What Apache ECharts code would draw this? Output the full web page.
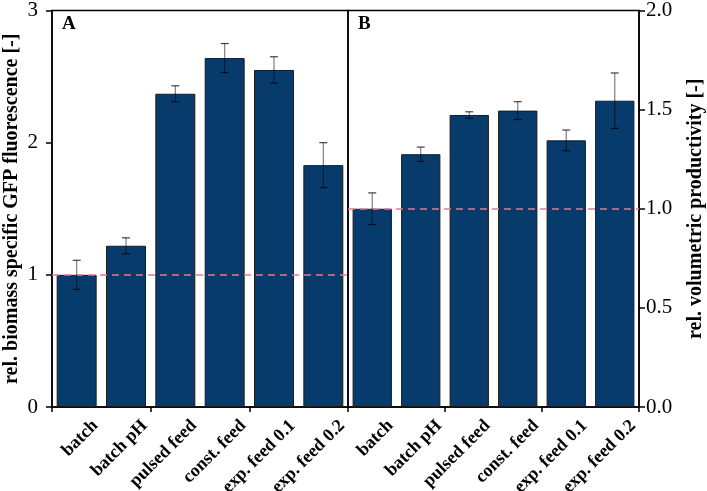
<!DOCTYPE html>
<html>
<head>
<meta charset="utf-8">
<script src="https://cdn.jsdelivr.net/npm/echarts@6/dist/echarts.min.js"></script>
<style>
    html, body { margin: 0; padding: 0; background: #fff; }
    #gfpChart { width: 707px; height: 491px; }
</style>
</head>
<body>
<div id="gfpChart"></div>
<script>
// categories shared by both panels
let categories = ['batch', 'batch pH', 'pulsed feed', 'const. feed', 'exp. feed 0.1', 'exp. feed 0.2'];

// panel A: rel. biomass specific GFP fluorescence
let gfpValues = [1.00, 1.22, 2.37, 2.64, 2.55, 1.83];
let gfpErrors = [0.11, 0.06, 0.06, 0.11, 0.10, 0.17];

// panel B: rel. volumetric productivity
let prodValues = [1.00, 1.275, 1.473, 1.495, 1.345, 1.545];
let prodErrors = [0.08, 0.036, 0.016, 0.045, 0.052, 0.14];

let gfpTicks = [0, 1, 2, 3];
let prodTicks = [0, 0.5, 1.0, 1.5, 2.0];

let font = '"Liberation Serif", "Times New Roman", serif';
let barColor = '#063b6b';
let refColor = '#e57a8d';

let gfpChart = echarts.init(document.getElementById('gfpChart'));

function errorBarItem(params, api) {
    let x = api.value(0);
    let v = api.value(1);
    let e = api.value(2);
    let top = api.coord([x, v + e]);
    let bottom = api.coord([x, v - e]);
    let cap = 4;
    let style = {stroke: 'rgba(0,0,0,0.5)', lineWidth: 1.2};
    let capStyle = {stroke: 'rgba(0,0,0,0.75)', lineWidth: 1.2};
    return {
        type: 'group',
        children: [
            {type: 'line', shape: {x1: top[0], y1: top[1], x2: bottom[0], y2: bottom[1]}, style: style},
            {type: 'line', shape: {x1: top[0] - cap, y1: top[1], x2: top[0] + cap, y2: top[1]}, style: capStyle},
            {type: 'line', shape: {x1: bottom[0] - cap, y1: bottom[1], x2: bottom[0] + cap, y2: bottom[1]}, style: capStyle}
        ]
    };
}

function errData(values, errors) {
    return values.map((v, i) => [i, v, errors[i]]);
}

function barAxis(gridIndex) {
    return {
        type: 'category',
        gridIndex: gridIndex,
        data: categories,
        position: 'bottom',
        axisLine: {lineStyle: {color: '#000', width: 1.5}},
        axisTick: {show: true, length: 5, lineStyle: {color: '#000', width: 1.5}},
        axisLabel: {show: false}
    };
}

function valueAxis(gridIndex, ticks, name, side, gap, margin, fmt) {
    return {
        type: 'value',
        gridIndex: gridIndex,
        position: side,
        min: ticks[0],
        max: ticks[ticks.length - 1],
        interval: ticks[1] - ticks[0],
        name: name,
        nameLocation: 'middle',
        nameRotate: 90,
        nameGap: gap,
        nameTextStyle: {fontFamily: font, fontWeight: 'bold', fontSize: 20, color: '#000'},
        splitLine: {show: false},
        axisLine: {show: true, lineStyle: {color: '#000', width: 1.5}},
        axisTick: {show: true, length: 6, lineStyle: {color: '#000', width: 1.5}},
        axisLabel: {margin: margin, fontFamily: font, fontSize: 21, color: '#000', formatter: fmt}
    };
}

let gfpOption = {
    animation: false,
    backgroundColor: '#fff',
    grid: [
        {left: 52, right: 359, top: 7, bottom: 84, show: true, borderColor: '#000', borderWidth: 1.5},
        {left: 348, right: 63, top: 7, bottom: 84, show: true, borderColor: '#000', borderWidth: 1.5}
    ],
    xAxis: [barAxis(0), barAxis(1)],
    yAxis: [
        valueAxis(0, gfpTicks, 'rel. biomass specific GFP fluorescence [-]', 'left', 30, 14,
            function (v) { return String(v); }),
        valueAxis(1, prodTicks, 'rel. volumetric productivity [-]', 'right', 47, 7,
            function (v) { return v.toFixed(1); })
    ],
    series: [
        {
            name: 'GFP',
            type: 'bar',
            xAxisIndex: 0,
            yAxisIndex: 0,
            data: gfpValues,
            barCategoryGap: '19%',
            itemStyle: {color: barColor, borderColor: '#1a1a1a', borderWidth: 1},
            markLine: {
                silent: true,
                symbol: 'none',
                label: {show: false},
                lineStyle: {color: refColor, type: [7, 5], width: 1.5},
                data: [{yAxis: 1}]
            }
        },
        {
            name: 'GFP err',
            type: 'custom',
            xAxisIndex: 0,
            yAxisIndex: 0,
            data: errData(gfpValues, gfpErrors),
            renderItem: errorBarItem,
            z: 5
        },
        {
            name: 'productivity',
            type: 'bar',
            xAxisIndex: 1,
            yAxisIndex: 1,
            data: prodValues,
            barCategoryGap: '19%',
            itemStyle: {color: barColor, borderColor: '#1a1a1a', borderWidth: 1},
            markLine: {
                silent: true,
                symbol: 'none',
                label: {show: false},
                lineStyle: {color: refColor, type: [7, 5], width: 1.5},
                data: [{yAxis: 1}]
            }
        },
        {
            name: 'productivity err',
            type: 'custom',
            xAxisIndex: 1,
            yAxisIndex: 1,
            data: errData(prodValues, prodErrors),
            renderItem: errorBarItem,
            z: 5
        }
    ]
};

gfpChart.setOption(gfpOption);

// rotated category labels, anchored just left of the right boundary tick of each category
function categoryLabels(xAxisIndex, yAxisIndex) {
    let y0 = gfpChart.convertToPixel({yAxisIndex: yAxisIndex}, 0);
    let c0 = gfpChart.convertToPixel({xAxisIndex: xAxisIndex}, 0);
    let c1 = gfpChart.convertToPixel({xAxisIndex: xAxisIndex}, 1);
    let labels = [];
    for (let i = 0; i < categories.length; i++) {
        let cx = gfpChart.convertToPixel({xAxisIndex: xAxisIndex}, i);
        let edge = cx + (c1 - c0) / 2;
        labels.push({
            type: 'text',
            x: edge - 6,
            y: y0 + 16,
            rotation: Math.PI / 4,
            style: {
                text: categories[i],
                fill: '#000',
                font: 'bold 18px ' + font,
                align: 'right',
                verticalAlign: 'middle'
            }
        });
    }
    return labels;
}

gfpChart.setOption({
    graphic: [
        {type: 'text', left: 62, top: 15, style: {text: 'A', font: 'bold 19px ' + font, fill: '#000'}},
        {type: 'text', left: 358, top: 15, style: {text: 'B', font: 'bold 19px ' + font, fill: '#000'}}
    ].concat(categoryLabels(0, 0), categoryLabels(1, 1))
});
</script>
</body>
</html>
